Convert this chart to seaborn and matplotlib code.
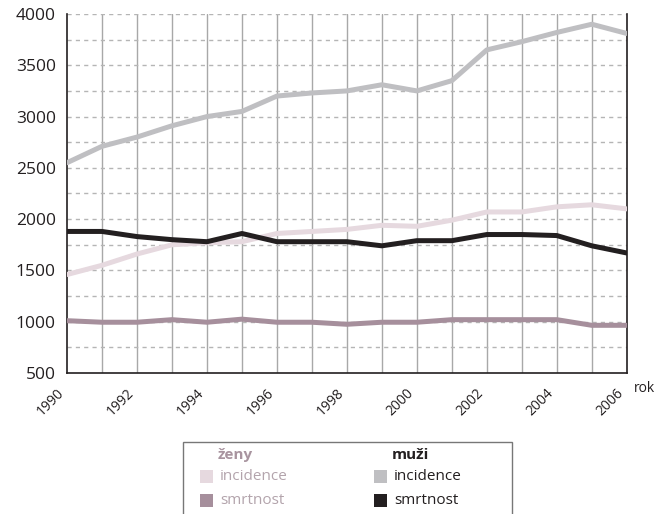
import matplotlib

matplotlib.use("Agg")
import matplotlib.pyplot as plt
import pandas as pd
import seaborn as sns
from matplotlib.patches import Rectangle

years = list(range(1990, 2007))

zeny_incidence = [1460, 1550, 1660, 1750, 1770, 1780, 1860, 1880, 1900,
                  1940, 1930, 1990, 2070, 2070, 2120, 2140, 2100]
zeny_smrtnost = [1010, 995, 995, 1020, 995, 1025, 995, 995, 975,
                 995, 995, 1020, 1020, 1020, 1020, 965, 965]
muzi_incidence = [2550, 2710, 2800, 2910, 3000, 3050, 3200, 3230, 3250,
                  3310, 3250, 3350, 3650, 3730, 3820, 3900, 3810]
muzi_smrtnost = [1880, 1880, 1830, 1800, 1780, 1860, 1780, 1780, 1780,
                 1740, 1790, 1790, 1850, 1850, 1840, 1740, 1670]

series_names = ["ženy incidence", "ženy smrtnost", "muži incidence", "muži smrtnost"]
series_values = [zeny_incidence, zeny_smrtnost, muzi_incidence, muzi_smrtnost]
series_colors = ["#e6d9df", "#a68f9c", "#bfbfc2", "#231f20"]

group_titles = ["ženy", "muži"]
item_labels = ["incidence", "smrtnost"]
x_label = "rok"

df = pd.concat(
    [pd.DataFrame({"rok": years, "pocet": vals, "serie": name})
     for name, vals in zip(series_names, series_values)],
    ignore_index=True,
)

sns.set_style("white")
plt.rcParams["font.family"] = ["Open Sans", "DejaVu Sans"]

fig = plt.figure(figsize=(6.57, 5.14), dpi=100)
ax = fig.add_axes([0.102, 0.2743, 0.852, 0.6985])

sns.lineplot(
    data=df, x="rok", y="pocet", hue="serie", hue_order=series_names,
    palette=dict(zip(series_names, series_colors)), linewidth=3.6,
    legend=False, ax=ax, zorder=3,
)

ax.set_xlim(1990, 2006)
ax.set_ylim(500, 4000)

for yr in years[1:-1]:
    ax.axvline(yr, color="#a8a8a8", lw=1.0, zorder=1)
for v in range(750, 4001, 250):
    ax.axhline(v, color="#b5b5b5", lw=1.0, ls=(0, (3, 3)), zorder=1)

ax.set_xticks(years[::2])
ax.set_xticklabels([str(y) for y in years[::2]], rotation=45, ha="right",
                   va="top", fontsize=10, color="#231f20")
ax.set_yticks(range(500, 4001, 500))
ax.set_yticklabels([str(v) for v in range(500, 4001, 500)], fontsize=12.5, color="#231f20")
ax.tick_params(axis="x", length=0, pad=9)
ax.tick_params(axis="y", length=0, pad=8)
ax.set_xlabel("")
ax.set_ylabel("")

for side in ["left", "bottom", "right"]:
    ax.spines[side].set_visible(True)
    ax.spines[side].set_color("#231f20")
    ax.spines[side].set_linewidth(1.2)
ax.spines["top"].set_visible(False)

fig.text(655 / 657, 1 - 388 / 514, x_label, fontsize=10, color="#231f20",
         va="center", ha="right")

# legend box
W, H = 657, 514
fig.patches.append(Rectangle((183 / W, 1 - 520 / H), (512 - 183) / W, (520 - 442) / H,
                             transform=fig.transFigure, fill=False,
                             edgecolor="#777777", lw=1.0))

title_colors = ["#a8949f", "#231f20"]
text_colors = ["#b3a4ac", "#231f20"]
col_square_x = [200, 374]
row_y = [477, 501]
for g, title in enumerate(group_titles):
    fig.text((col_square_x[g] + 18) / W, 1 - 455 / H, title, fontsize=11,
             fontweight="bold", color=title_colors[g], va="center", ha="left")
    for r, item in enumerate(item_labels):
        color = series_colors[g * 2 + r]
        fig.patches.append(Rectangle((col_square_x[g] / W, 1 - (row_y[r] + 6) / H),
                                     13 / W, 13 / H, transform=fig.transFigure,
                                     facecolor=color, edgecolor="none"))
        fig.text((col_square_x[g] + 20) / W, 1 - row_y[r] / H, item, fontsize=11,
                 color=text_colors[g], va="center", ha="left")

fig.savefig("out.png", dpi=100)
